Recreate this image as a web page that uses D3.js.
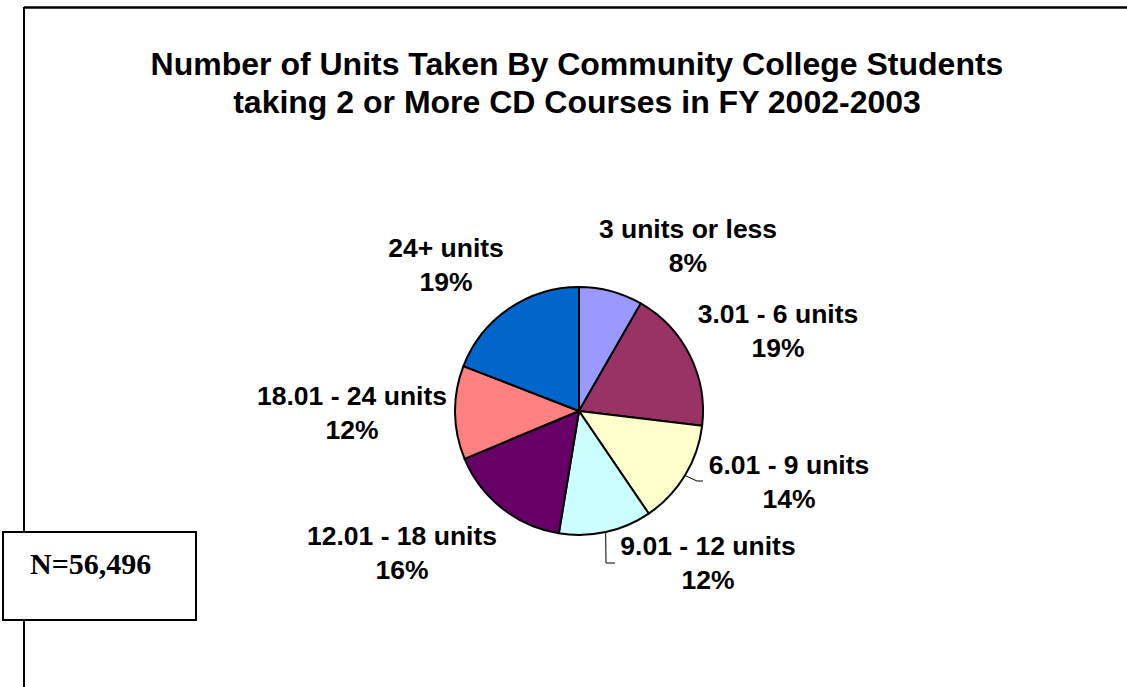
<!DOCTYPE html>
<html>
<head>
<meta charset="utf-8">
<script src="https://cdn.jsdelivr.net/npm/d3@7"></script>
<style>
  html, body { margin: 0; padding: 0; background: #fff; }
  svg { display: block; }
</style>
</head>
<body>
<svg id="chart" width="1127" height="687"></svg>
<script>
// ---- data ----
const titleLines = ["Number of Units Taken By Community College Students",
                    "taking 2 or More CD Courses in FY 2002-2003"];
const categories = ["3 units or less", "3.01 - 6 units", "6.01 - 9 units", "9.01 - 12 units",
                    "12.01 - 18 units", "18.01 - 24 units", "24+ units"];
const shares = [8.3, 18.6, 13.6, 12.1, 16.1, 12.2, 19.1];
const colors = ["#9999FF", "#993366", "#FFFFCC", "#CCFFFF", "#660066", "#FF8080", "#0066CC"];
const noteText = "N=56,496";

// ---- layout (pixels, relative to pie centre) ----
const cx = 579, cy = 411, radius = 124;
const labelOffsets = [[109, -173], [199, -88], [210, 63], [129, 144], [-177, 134], [-227, -6], [-133, -154]];
const leaderEnds = {2: [[118, 70], [124, 70]], 3: [[27, 152], [36, 152]]};
const lineGap = 34;

const svg = d3.select("#chart");

// frame lines
svg.append("line").attr("x1", 24).attr("x2", 1127).attr("y1", 7.5).attr("y2", 7.5)
  .attr("stroke", "#000").attr("stroke-width", 2.5);
svg.append("line").attr("x1", 24).attr("x2", 24).attr("y1", 7).attr("y2", 687)
  .attr("stroke", "#000").attr("stroke-width", 2);

// title
svg.append("text")
  .attr("x", 577).attr("y", 75)
  .attr("text-anchor", "middle")
  .style("font-family", "'Liberation Sans', Arial, sans-serif")
  .style("font-weight", "bold").style("font-size", "32px")
  .selectAll("tspan").data(titleLines).join("tspan")
  .attr("x", 577).attr("dy", (d, i) => i === 0 ? 0 : 38)
  .text(d => d);

// pie
const pie = d3.pie().sort(null).value(d => d)(shares);
const arc = d3.arc().innerRadius(0).outerRadius(radius);
const edgeArc = d3.arc().innerRadius(radius).outerRadius(radius);

const g = svg.append("g").attr("transform", `translate(${cx},${cy})`);
g.selectAll("path.slice").data(pie).join("path")
  .attr("class", "slice")
  .attr("d", arc)
  .attr("fill", (d, i) => colors[i])
  .attr("stroke", "#000").attr("stroke-width", 2).attr("stroke-linejoin", "round");

// leader lines
pie.forEach((d, i) => {
  if (!leaderEnds[i]) return;
  const start = edgeArc.centroid(d);
  const pts = [start, ...leaderEnds[i]];
  g.append("path")
    .attr("d", d3.line()(pts))
    .attr("fill", "none").attr("stroke", "#000").attr("stroke-width", 1);
});

// labels
const fmt = v => Math.round(v) + "%";
const labels = g.selectAll("text.lbl").data(pie).join("text")
  .attr("class", "lbl")
  .attr("text-anchor", "middle")
  .style("font-family", "'Liberation Sans', Arial, sans-serif")
  .style("font-weight", "bold").style("font-size", "26.5px")
  .attr("x", (d, i) => labelOffsets[i][0])
  .attr("y", (d, i) => labelOffsets[i][1]);
labels.append("tspan").attr("x", (d, i) => labelOffsets[i][0]).text((d, i) => categories[i]);
labels.append("tspan").attr("x", (d, i) => labelOffsets[i][0]).attr("dy", lineGap).text(d => fmt(d.data));

// N box
svg.append("rect").attr("x", 3).attr("y", 532).attr("width", 193).attr("height", 88)
  .attr("fill", "#fff").attr("stroke", "#000").attr("stroke-width", 2);
svg.append("text").attr("x", 30).attr("y", 574)
  .style("font-family", "'Liberation Serif', 'Times New Roman', serif")
  .style("font-weight", "bold").style("font-size", "30px")
  .text(noteText);
</script>
</body>
</html>
